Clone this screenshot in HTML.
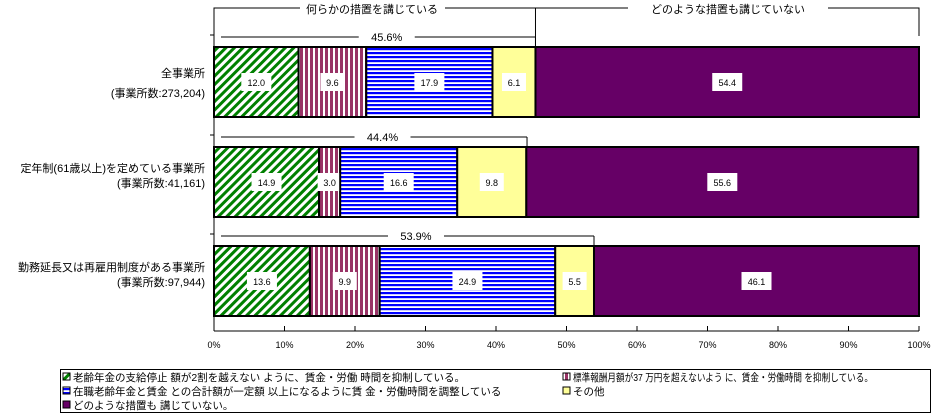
<!DOCTYPE html>
<html><head><meta charset="utf-8"><style>
body{margin:0;background:#fff;}
svg{display:block;font-family:"Liberation Sans","Noto Sans CJK JP",sans-serif;}
</style></head><body>
<svg id="c" width="941" height="417" viewBox="0 0 941 417">
<defs>
<pattern id="pG" width="6" height="6" patternUnits="userSpaceOnUse" patternTransform="rotate(45)"><rect width="6" height="6" fill="#fff"/><rect width="3" height="6" fill="#008000"/></pattern>
<pattern id="pM" width="5" height="5" patternUnits="userSpaceOnUse"><rect width="5" height="5" fill="#fff"/><rect width="3" height="5" fill="#993366"/></pattern>
<pattern id="pB" width="4" height="4" patternUnits="userSpaceOnUse"><rect width="4" height="4" fill="#fff"/><rect width="4" height="2.2" fill="#0000ff"/></pattern>
</defs>
<g id="g"></g>
</svg>
<script>
const categories=["全事業所","定年制(61歳以上)を定めている事業所","勤務延長又は再雇用制度がある事業所"];
const subLabels=["(事業所数:273,204)","(事業所数:41,161)","(事業所数:97,944)"];
const s1=[12.0,14.9,13.6];
const s2=[9.6,3.0,9.9];
const s3=[17.9,16.6,24.9];
const s4=[6.1,9.8,5.5];
const s5=[54.4,55.6,46.1];
const totals=[45.6,44.4,53.9];
const ticks=[0,10,20,30,40,50,60,70,80,90,100];
const fills=["url(#pG)","url(#pM)","url(#pB)","#ffff99","#660066"];
const series=[s1,s2,s3,s4,s5];
const X0=214,X1=919;
const x=v=>X0+(X1-X0)*v/100;
const rowTop=[47,147,246],BH=70;
const g=document.getElementById('g');
const NS="http://www.w3.org/2000/svg";
function el(t,a,p){const e=document.createElementNS(NS,t);for(const k in a)e.setAttribute(k,a[k]);(p||g).appendChild(e);return e;}
function txt(s,a){const e=el('text',a);e.textContent=s;return e;}
let ax=el('line',{x1:X0,y1:8,x2:X0,y2:331,stroke:'#000'});

let bx=el('line',{x1:X0,y1:331,x2:X1,y2:331,stroke:'#000'});

ticks.forEach(t=>{
 el('line',{x1:x(t),y1:326,x2:x(t),y2:331,stroke:'#000'});
 const e=txt(t+'%',{x:x(t),y:348,'font-size':9,'text-anchor':'middle'});
 
});
const split=x(totals[0]);
el('polyline',{points:`${X0},18 ${X0},8 300,8`,fill:'none',stroke:'#000'});
el('line',{x1:445,y1:8,x2:628,y2:8,stroke:'#000'});
el('polyline',{points:`828,8 ${X1},8 ${X1},36`,fill:'none',stroke:'#000'});
el('line',{x1:split,y1:8,x2:split,y2:46,stroke:'#000'});
let h1=txt('何らかの措置を講じている',{x:372,y:13,'font-size':11,'text-anchor':'middle'});

let h2=txt('どのような措置も講じていない',{x:728,y:13,'font-size':11,'text-anchor':'middle'});

categories.forEach((c,i)=>{
 const y=rowTop[i];
 const by=y-10,xe=x(totals[i]),mid=(X0+xe)/2+12;
 el('line',{x1:X0-4,y1:by-2,x2:X0,y2:by-2,stroke:'#000'});
 el('line',{x1:221,y1:by,x2:mid-28,y2:by,stroke:'#000'});
 el('line',{x1:mid+28,y1:by,x2:xe,y2:by,stroke:'#000'});
 el('line',{x1:xe,y1:by,x2:xe,y2:y,stroke:'#000'});
 const tl=txt(totals[i].toFixed(1)+'%',{x:mid,y:by+4,'font-size':11,'text-anchor':'middle'});
 
 const l1=txt(c,{x:205,y:y+(i==0?30:25),'font-size':11,'text-anchor':'end'});
 
 const l2=txt(subLabels[i],{x:205,y:y+(i==0?50:40),'font-size':11,'text-anchor':'end'});
 
 let acc=0;
 series.forEach((s,k)=>{
  const v=s[i],xa=x(acc),xb=x(acc+v);acc+=v;
  const r=el('rect',{x:xa,y:y,width:xb-xa,height:BH,fill:fills[k],stroke:'#000','stroke-width':2});
  
  const cx=(xa+xb)/2,lab=v.toFixed(1),w=lab.length*6+6;
  el('rect',{x:cx-w/2,y:y+BH/2-9,width:w,height:18,fill:'#fff'});
  const vt=txt(lab,{x:cx,y:y+BH/2+4,'font-size':9,'text-anchor':'middle'});
  
 });
});
const lg=el('rect',{x:60.5,y:369.5,width:870,height:43,fill:'#fff',stroke:'#000'});

const legendItems=[
 ["老齢年金の支給停止 額が2割を越えない ように、賃金・労働 時間を抑制している。",63,377,0],
 ["標準報酬月額が37 万円を超えないよう に、賃金・労働時間 を抑制している。",563,377,300],
 ["在職老齢年金と賃金 との合計額が一定額 以上になるように賃 金・労働時間を調整している",63,391,0],
 ["その他",563,391,0],
 ["どのような措置も 講じていない。",63,405,0]];
legendItems.forEach((it,k)=>{
 el('rect',{x:it[1],y:it[2]-4,width:7,height:7,fill:fills[k],stroke:'#000'});
 const a={x:it[1]+10,y:it[2]+4,'font-size':10.5};
 if(it[3]){a.textLength=it[3];a.lengthAdjust='spacingAndGlyphs';}
 const t=txt(it[0],a);
 
});
</script>
</body></html>
